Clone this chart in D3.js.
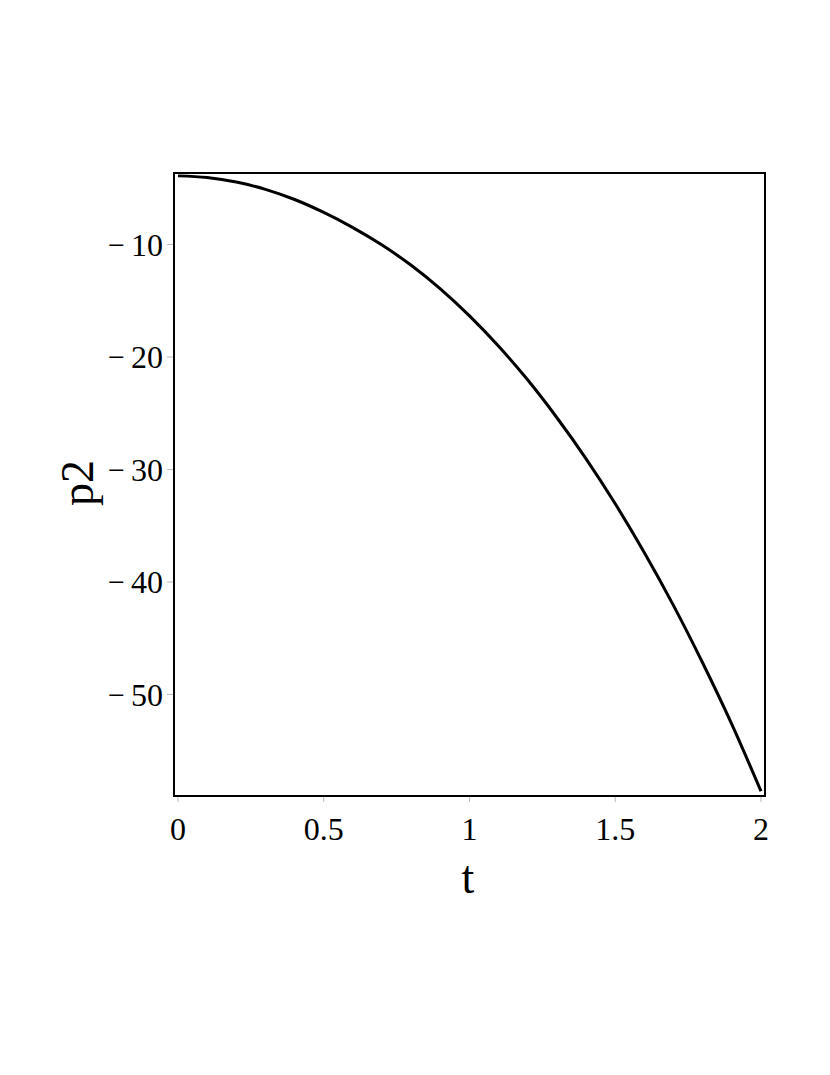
<!DOCTYPE html>
<html>
<head>
<meta charset="utf-8">
<script src="https://cdn.jsdelivr.net/npm/d3@7"></script>
<style>
body { margin: 0; background: #fff; }
text { font-family: "Liberation Serif", "Times New Roman", serif; fill: #000; }
</style>
</head>
<body>
<svg id="fig" width="830" height="1075"></svg>
<script>
// values
const tValues = [0, 0.1, 0.2, 0.3, 0.4, 0.5, 0.6, 0.7, 0.8, 0.9, 1.0,
  1.1, 1.2, 1.3, 1.4, 1.5, 1.6, 1.7, 1.8, 1.9, 2.0];
const p2Values = [-3.9, -4.05, -4.45, -5.1, -6.0, -7.15, -8.5, -10.05, -11.85, -13.95, -16.35,
  -19.05, -22.05, -25.4, -29.05, -33.05, -37.4, -42.1, -47.2, -52.65, -58.6];
const xTicks = [0, 0.5, 1, 1.5, 2];
const yTicks = [-10, -20, -30, -40, -50];

const data = tValues.map((t, i) => ({t: t, p: p2Values[i]}));

const svg = d3.select("#fig");

const x = d3.scaleLinear().domain([0, 2]).range([178, 761]);
const y = d3.scaleLinear().domain([-10, -50]).range([244.5, 694.5]);

const frame = {x0: 174, x1: 765, y0: 173, y1: 796};

// tick marks
svg.append("g")
  .selectAll("line")
  .data(xTicks)
  .join("line")
  .attr("x1", d => x(d)).attr("x2", d => x(d))
  .attr("y1", frame.y1).attr("y2", frame.y1 + 6)
  .attr("stroke", "#bbb").attr("stroke-width", 1);

svg.append("g")
  .selectAll("line")
  .data(yTicks)
  .join("line")
  .attr("x1", frame.x0 - 7).attr("x2", frame.x0)
  .attr("y1", d => y(d)).attr("y2", d => y(d))
  .attr("stroke", "#bbb").attr("stroke-width", 1);

// tick labels
svg.append("g")
  .selectAll("text")
  .data(xTicks)
  .join("text")
  .attr("x", d => x(d))
  .attr("y", 840)
  .attr("text-anchor", "middle")
  .attr("font-size", 32)
  .text(d => d);

const yLab = svg.append("g")
  .selectAll("text")
  .data(yTicks)
  .join("text")
  .attr("x", 163)
  .attr("y", d => y(d) + 11)
  .attr("text-anchor", "end")
  .attr("font-size", 32);

yLab.append("tspan")
  .attr("font-size", 30)
  .attr("dy", -1)
  .text("\u2212");
yLab.append("tspan")
  .attr("dx", 6)
  .attr("dy", 1)
  .text(d => Math.abs(d));

// curve
svg.append("path")
  .datum(data)
  .attr("d", d3.line().x(d => x(d.t)).y(d => y(d.p)).curve(d3.curveMonotoneX))
  .attr("fill", "none")
  .attr("stroke", "#000")
  .attr("stroke-width", 3);

// frame
svg.append("rect")
  .attr("x", frame.x0).attr("y", frame.y0)
  .attr("width", frame.x1 - frame.x0).attr("height", frame.y1 - frame.y0)
  .attr("fill", "none")
  .attr("stroke", "#000")
  .attr("stroke-width", 2);

// axis titles
svg.append("text")
  .attr("x", 468).attr("y", 893)
  .attr("text-anchor", "middle")
  .attr("font-size", 46)
  .text("t");

svg.append("text")
  .attr("transform", `translate(93, 483) rotate(-90)`)
  .attr("text-anchor", "middle")
  .attr("font-size", 46)
  .text("p2");
</script>
</body>
</html>
